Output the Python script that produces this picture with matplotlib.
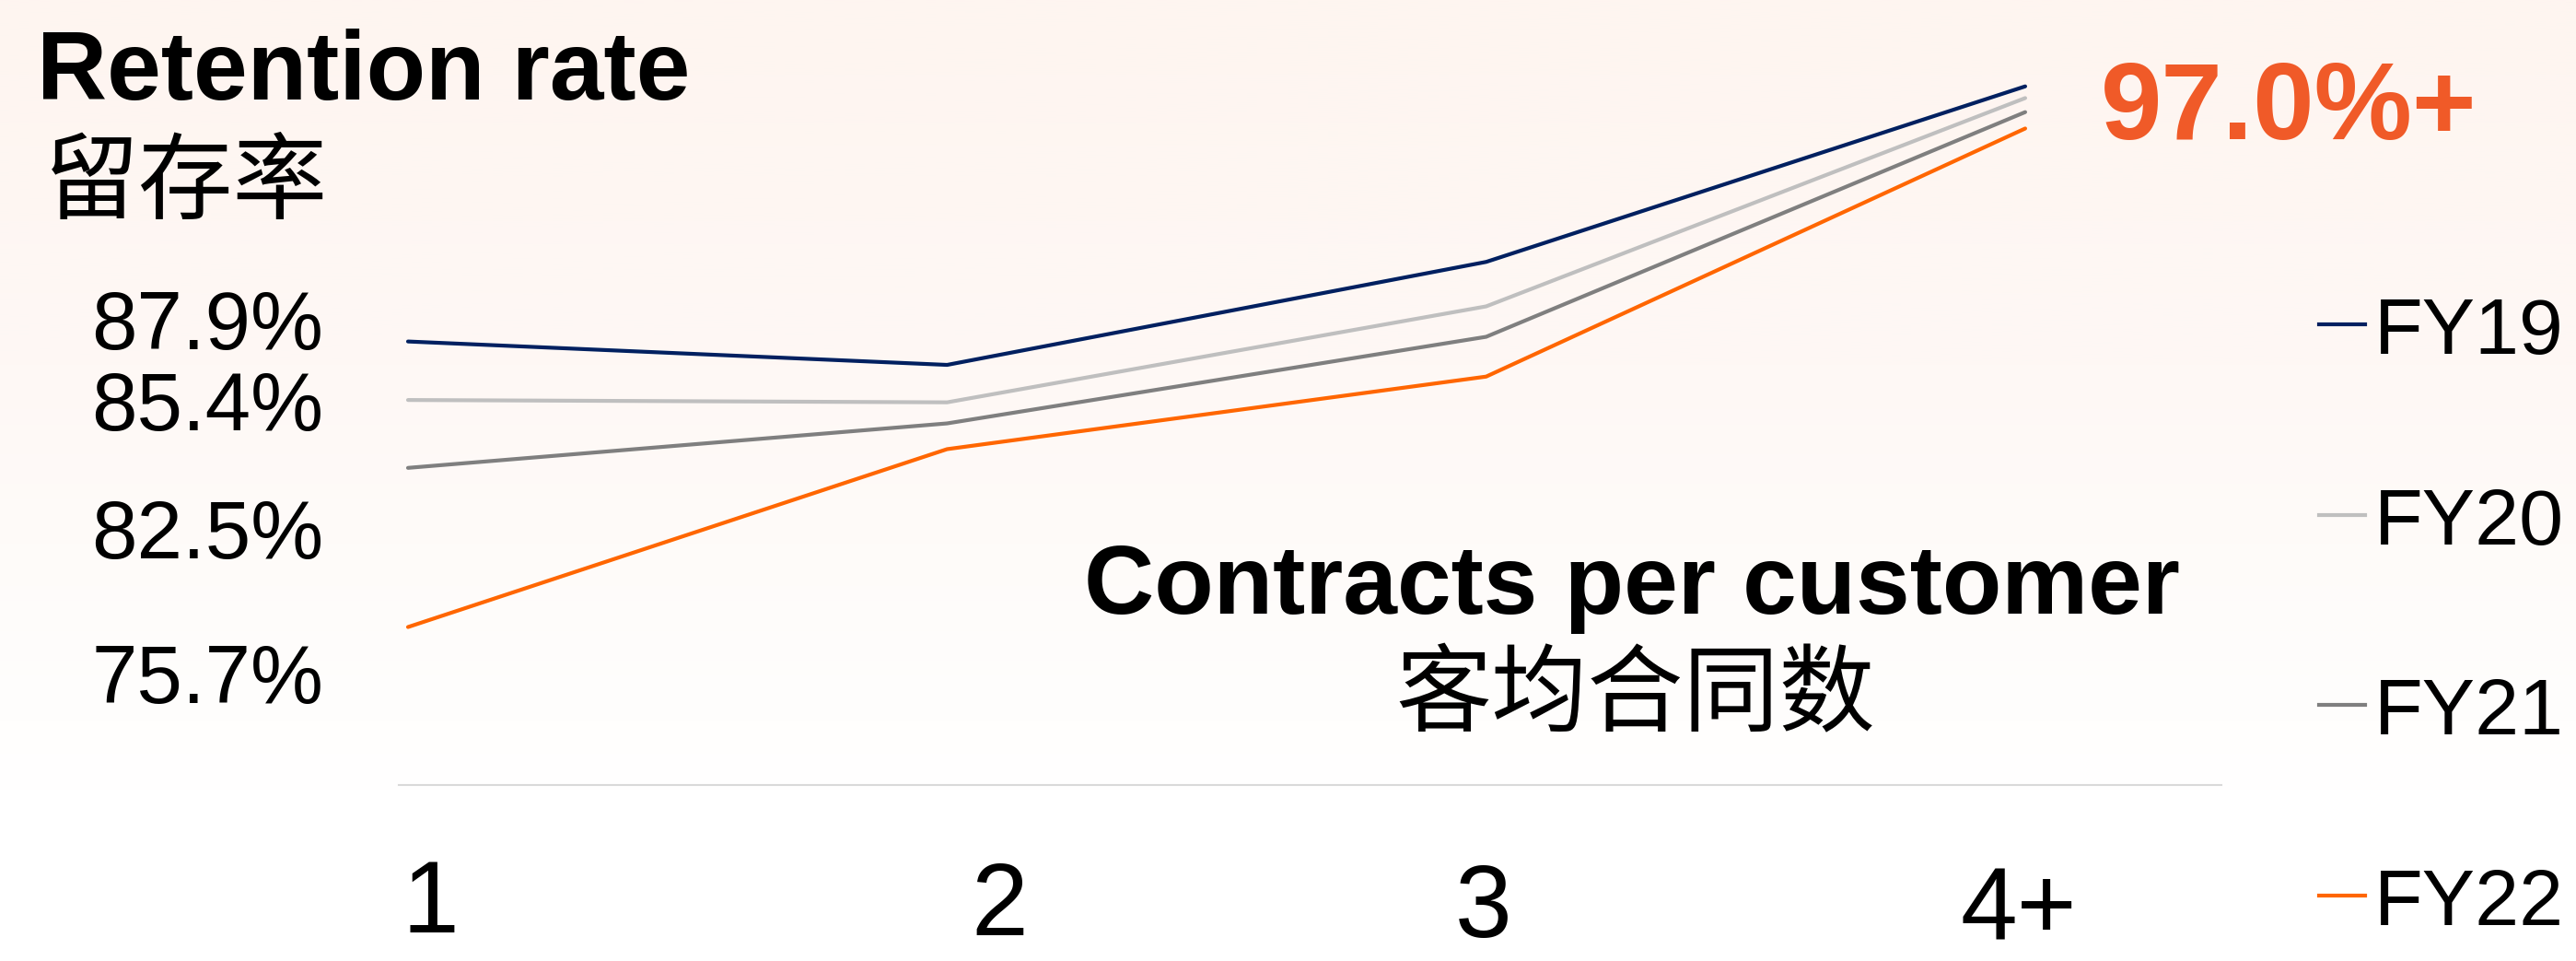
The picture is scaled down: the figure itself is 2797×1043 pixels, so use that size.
import numpy as np
import matplotlib
matplotlib.use('Agg')
import matplotlib.pyplot as plt
from matplotlib.colors import LinearSegmentedColormap
from matplotlib.lines import Line2D

# data
categories = ['1', '2', '3', '4+']
years = ['FY19', 'FY20', 'FY21', 'FY22']
fy19 = [87.9, 86.9, 91.3, 98.8]
fy20 = [85.4, 85.3, 89.4, 98.3]
fy21 = [82.5, 84.4, 88.1, 97.7]
fy22 = [75.7, 83.3, 86.4, 97.0]
series = [fy19, fy20, fy21, fy22]
colors = ['#002060', '#BFBFBF', '#7F7F7F', '#FF6600']
highlight = '97.0%+'

W, H = 2797, 1043
plt.rcParams['font.family'] = ['Liberation Sans', 'Noto Sans CJK SC']
cjk = ['Noto Sans CJK SC', 'DejaVu Sans']

fig = plt.figure(figsize=(W / 100, H / 100), dpi=100)


def fx(px):
    return px / W


def fy(py):
    return 1 - py / H


# soft peach background fading to white
bg = fig.add_axes([0, 0, 1, 1], zorder=-10)
cmap = LinearSegmentedColormap.from_list(
    'bg', [(0, '#FEF5F0'), (0.38, '#FEF8F5'), (0.75, '#FFFEFD'), (0.82, '#FFFFFF'), (1, '#FFFFFF')])
grad = np.linspace(0, 1, 512).reshape(-1, 1)
bg.imshow(grad, aspect='auto', cmap=cmap, extent=[0, 1, 0, 1], origin='upper')
bg.axis('off')

# main plot area
ax = fig.add_axes([fx(433), fy(852), fx(2412 - 433), 852 / H])
ax.set_facecolor('none')
x = np.arange(len(categories))
for vals, c in zip(series, colors):
    ax.plot(x, vals, color=c, lw=3, solid_capstyle='round')
ax.set_xlim(-0.0171, 3.364)
ax.set_ylim(68.95, 102.49)
for s in ['top', 'left', 'right']:
    ax.spines[s].set_visible(False)
ax.spines['bottom'].set_color('#D9D9D9')
ax.spines['bottom'].set_linewidth(1.5)
ax.set_xticks([])
ax.set_yticks([])

# titles
fig.text(fx(40), fy(108), 'Retention rate', fontsize=76, weight='bold', va='baseline')
fig.text(fx(48), fy(201), '留存率', fontsize=74, family=cjk, va='center')
fig.text(fx(1772), fy(666), 'Contracts per customer', fontsize=76, weight='bold',
         ha='center', va='baseline')
fig.text(fx(1776), fy(757), '客均合同数', fontsize=75, family=cjk, ha='center', va='center')
fig.text(fx(2281), fy(151), highlight, fontsize=86, weight='bold', color='#F05A28',
         va='baseline')

# starting values as left labels
label_base = [379, 467, 606, 763]
for vals, yb in zip(series, label_base):
    fig.text(fx(351), fy(yb), f'{vals[0]:.1f}%', fontsize=64, ha='right', va='baseline')

# category labels (slightly staggered like the original)
cat_x = [467, 1085, 1611, 2192]
cat_base = [1012, 1015, 1017, 1019]
for lab, cx, cb in zip(categories, cat_x, cat_base):
    fig.text(fx(cx), fy(cb), lab, fontsize=80, ha='center', va='baseline')

# legend
for i, (name, c) in enumerate(zip(years, colors)):
    yb = 384 + 206.7 * i
    fig.add_artist(Line2D([fx(2518), fx(2568)], [fy(yb - 32), fy(yb - 32)], color=c, lw=3))
    fig.text(fx(2578), fy(yb), name, fontsize=62, va='baseline')

fig.savefig('out.png', dpi=100)
